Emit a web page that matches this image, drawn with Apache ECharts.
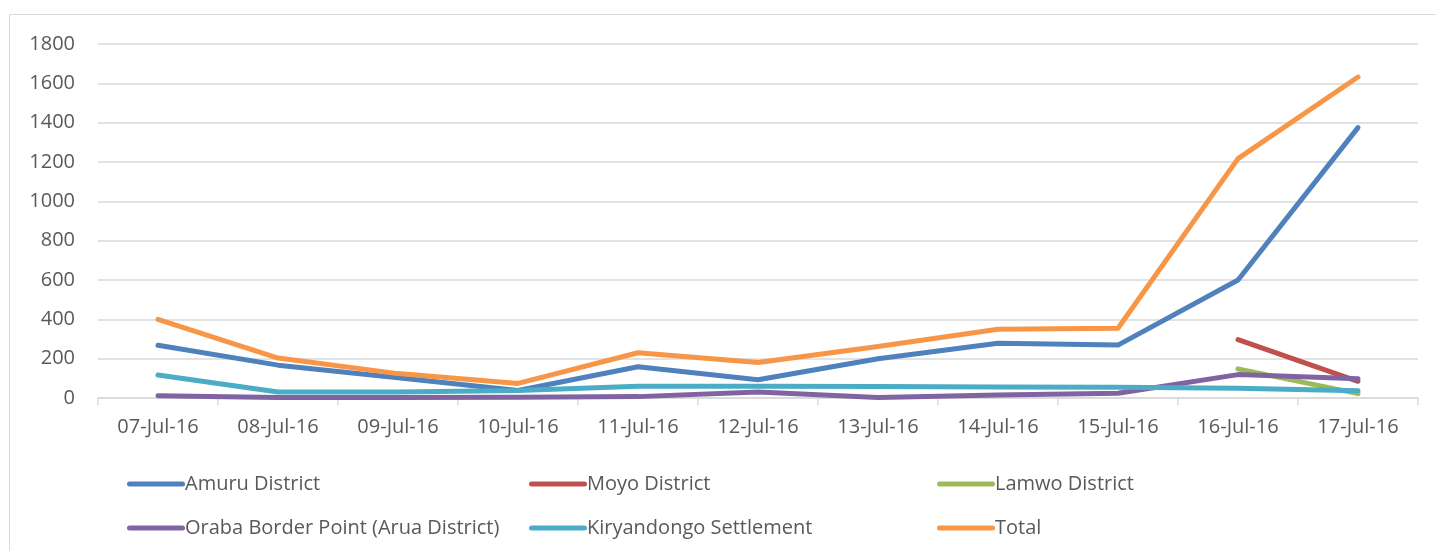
<!DOCTYPE html>
<html>
<head>
<meta charset="utf-8">
<script src="https://cdn.jsdelivr.net/npm/echarts@6/dist/echarts.min.js"></script>
<style>
  html, body { margin: 0; padding: 0; background: #fff; }
  #main { width: 1436px; height: 551px; }
</style>
</head>
<body>
<div id="main"></div>
<script>
// dates on the x axis
const categories = ["07-Jul-16", "08-Jul-16", "09-Jul-16", "10-Jul-16", "11-Jul-16", "12-Jul-16",
  "13-Jul-16", "14-Jul-16", "15-Jul-16", "16-Jul-16", "17-Jul-16"];

const amuru = [268, 167, 103, 38, 159, 93, 200, 278, 269, 600, 1375];
const moyo = [null, null, null, null, null, null, null, null, null, 297, 85];
const lamwo = [null, null, null, null, null, null, null, null, null, 148, 22];
const oraba = [12, 3, 3, 4, 7, 30, 3, 15, 24, 119, 98];
const kiryandongo = [117, 31, 31, 38, 60, 60, 58, 56, 55, 50, 37];
const total = [400, 203, 124, 74, 230, 180, 262, 350, 355, 1217, 1632];

const yTicks = { min: 0, max: 1800, interval: 200 };

const names = ["Amuru District", "Moyo District", "Lamwo District",
  "Oraba Border Point (Arua District)", "Kiryandongo Settlement", "Total"];
const colors = ["#4f81bd", "#c0504d", "#9bbb59", "#8064a2", "#4bacc6", "#f79646"];
const values = [amuru, moyo, lamwo, oraba, kiryandongo, total];

var chart = echarts.init(document.getElementById("main"));

// one legend per entry so the two rows line up like the original
var legendPos = [
  [122, 469], [524, 469], [932, 469],
  [122, 513], [524, 513], [932, 513]
];
var legends = names.map(function (n, i) {
  return {
    data: [n],
    left: legendPos[i][0],
    top: legendPos[i][1],
    itemWidth: 58,
    itemHeight: 18,
    itemGap: 0,
    icon: "path://M2.5,6.5 L55.5,6.5 A2.5,2.5 0 0 1 55.5,11.5 L2.5,11.5 A2.5,2.5 0 0 1 2.5,6.5 Z",
    textStyle: { color: "#595959", fontSize: 20, fontFamily: "Open Sans", padding: [0, 0, 0, -5] },
    selectedMode: false
  };
});

var option = {
  animation: false,
  color: colors,
  graphic: [{
    type: "rect",
    shape: { x: 9.5, y: 14.5, width: 1440, height: 560 },
    style: { fill: "none", stroke: "#d9d9d9", lineWidth: 1 },
    silent: true
  }],
  legend: legends,
  grid: { left: 98, right: 18, top: 44, bottom: 153 },
  xAxis: {
    type: "category",
    data: categories,
    boundaryGap: true,
    axisLine: { lineStyle: { color: "#d9d9d9", width: 1.5 } },
    axisTick: { show: true, inside: false, length: 7, lineStyle: { color: "#d9d9d9", width: 1.5 } },
    axisLabel: { color: "#595959", fontSize: 20, fontFamily: "Open Sans", margin: 19 }
  },
  yAxis: {
    type: "value",
    min: yTicks.min,
    max: yTicks.max,
    interval: yTicks.interval,
    axisLine: { show: false },
    axisTick: { show: false },
    splitLine: { lineStyle: { color: "#d9d9d9", width: 1.5 } },
    axisLabel: {
      color: "#595959", fontSize: 20, fontFamily: "Open Sans", margin: 23,
      formatter: function (v) { return String(v); }
    }
  },
  series: names.map(function (n, i) {
    return {
      name: n,
      type: "line",
      data: values[i],
      showSymbol: false,
      symbol: "none",
      connectNulls: false,
      lineStyle: { width: 5, color: colors[i], cap: "round", join: "round" },
      itemStyle: { color: colors[i] }
    };
  })
};

option && chart.setOption(option);
</script>
</body>
</html>
